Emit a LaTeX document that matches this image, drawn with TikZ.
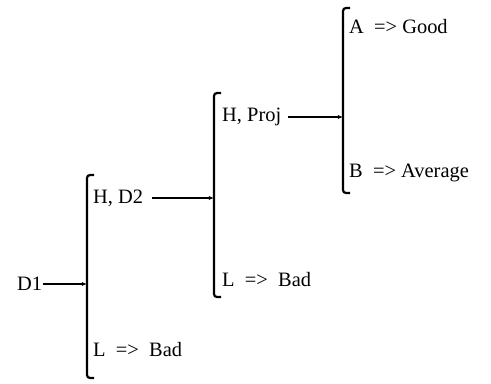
\documentclass[tikz,border=0pt]{standalone}
\usepackage{fontspec}
\setmainfont{Liberation Serif}
\usetikzlibrary{arrows.meta}

\begin{document}
\begin{tikzpicture}[x=1bp,y=-1bp,
  every node/.style={font=\fontsize{20.5}{24}\selectfont,inner sep=0pt,anchor=west},
  brace/.style={line width=2.2pt,rounded corners=3pt},
  ar/.style={-{Latex[length=1.8mm,width=1.5mm]},line width=1.8pt}]
\useasboundingbox (0,0) rectangle (491,383);

% labels
\node (d1)    at (17,284)  {D1};
\node (hd2)   at (93,198)  {H, D2};
\node (lbad1) at (93,350)  {L\ \ =>\ \ Bad};
\node (hproj) at (222,117) {H, Proj};
\node (lbad2) at (222,280) {L\ \ =>\ \ Bad};
\node (agood) at (349,27)  {A\ \ => Good};
\node (bavg)  at (349,173) {B\ \ => Average};

% brackets
\coordinate (j1) at (87,284);
\coordinate (j2) at (214,198);
\coordinate (j3) at (343,117);
\draw[brace] (94,175) -- (87,175) -- (87,378) -- (94,378);
\draw[brace] (221,93) -- (214,93) -- (214,297) -- (221,297);
\draw[brace] (350,8) -- (343,8) -- (343,193) -- (350,193);

\draw[ar,shorten <=1pt] (d1) -- (j1);
\draw[ar,shorten <=9bp] (hd2) -- (j2);
\draw[ar,shorten <=7bp] (hproj) -- (j3);
\end{tikzpicture}
\end{document}
